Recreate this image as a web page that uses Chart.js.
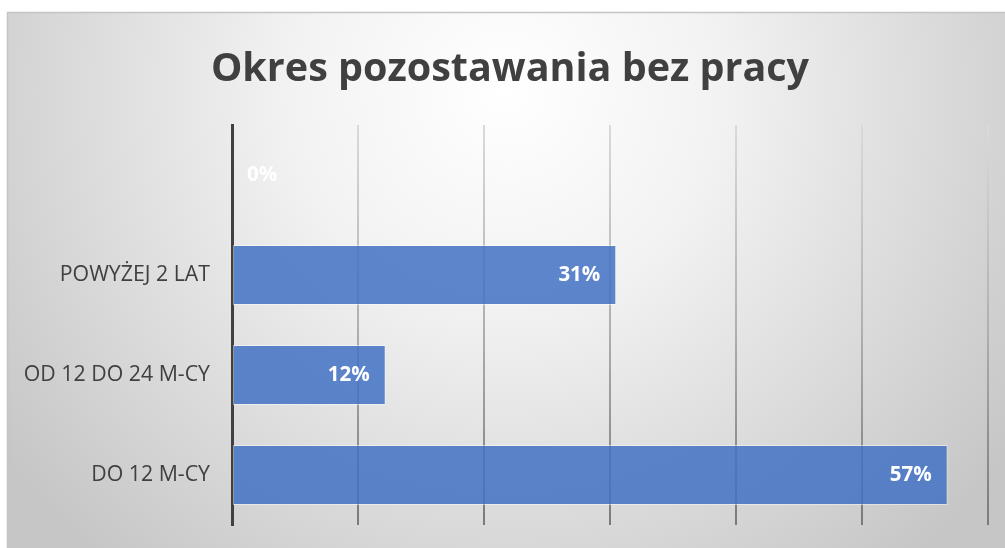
<!DOCTYPE html>
<html>
<head>
<meta charset="utf-8">
<script src="https://cdn.jsdelivr.net/npm/chart.js@4.4.1/dist/chart.umd.min.js"></script>
<style>
html,body{margin:0;padding:0;background:#fff;}
#wrap{width:1005px;height:548px;position:relative;}
</style>
</head>
<body>
<div id="wrap"><canvas id="c" width="1005" height="548"></canvas></div>
<script>
const chartTitle = "Okres pozostawania bez pracy";
const categories = ["", "POWYŻEJ 2 LAT", "OD 12 DO 24 M-CY", "DO 12 M-CY"];
const values = [0, 30.5, 12.2, 56.8];
const valueLabels = ["0%", "31%", "12%", "57%"];
const axisMax = 60;

const FONT = "'Open Sans', 'DejaVu Sans', sans-serif";

const bgPlugin = {
  id: 'bg',
  beforeDraw(chart) {
    const ctx = chart.ctx;
    ctx.save();
    ctx.fillStyle = '#ffffff';
    ctx.fillRect(0, 0, chart.width, chart.height);
    const x0 = 7, y0 = 12;
    const g = ctx.createRadialGradient(505, 90, 0, 505, 90, 620);
    g.addColorStop(0, '#ffffff');
    g.addColorStop(0.35, '#f2f2f2');
    g.addColorStop(1, '#c6c6c6');
    ctx.fillStyle = g;
    ctx.fillRect(x0, y0, chart.width - x0, chart.height - y0);
    ctx.strokeStyle = '#c4c4c4';
    ctx.lineWidth = 1.5;
    ctx.beginPath();
    ctx.moveTo(x0 + 0.5, chart.height);
    ctx.lineTo(x0 + 0.5, y0 + 0.5);
    ctx.lineTo(chart.width, y0 + 0.5);
    ctx.stroke();
    // title
    ctx.fillStyle = '#404040';
    ctx.font = "bold 39.5px " + FONT;
    ctx.textAlign = 'center';
    ctx.textBaseline = 'alphabetic';
    ctx.fillText(chartTitle, 510, 81);
    ctx.restore();
  }
};

const labelPlugin = {
  id: 'vlabels',
  afterDatasetsDraw(chart) {
    const ctx = chart.ctx;
    const meta = chart.getDatasetMeta(0);
    const xs = chart.scales.x;
    ctx.save();
    ctx.fillStyle = '#ffffff';
    ctx.font = "bold 20.5px " + FONT;
    ctx.textBaseline = 'middle';
    meta.data.forEach((bar, i) => {
      const txt = valueLabels[i];
      const w = ctx.measureText(txt).width;
      const base = xs.getPixelForValue(0);
      let xr = bar.x - 16;
      if (xr - w < base + 15) {
        ctx.textAlign = 'left';
        ctx.fillText(txt, base + 15, bar.y);
      } else {
        ctx.textAlign = 'right';
        ctx.fillText(txt, xr, bar.y);
      }
    });
    ctx.restore();
  }
};

function gridColor(c) {
  const chart = c.chart;
  const a = chart.chartArea;
  if (!a) return '#a0a0a0';
  const g = chart.ctx.createLinearGradient(0, a.top, 0, a.bottom);
  g.addColorStop(0, '#dadada');
  g.addColorStop(0.5, '#b0b0b0');
  g.addColorStop(1, '#7a7a7a');
  return g;
}

new Chart(document.getElementById('c'), {
  type: 'bar',
  data: {
    labels: categories,
    datasets: [{
      data: values,
      backgroundColor: 'rgba(68,114,196,0.86)',
      borderColor: 'rgba(255,255,255,0.45)',
      borderWidth: 1,
      borderSkipped: false,
      barPercentage: 0.6,
      categoryPercentage: 1.0
    }]
  },
  options: {
    indexAxis: 'y',
    responsive: false,
    animation: false,
    devicePixelRatio: 1,
    layout: { padding: { top: 125, right: 17, bottom: 23, left: 0 } },
    plugins: { legend: { display: false }, title: { display: false }, tooltip: { enabled: false } },
    scales: {
      x: {
        min: 0, max: axisMax,
        afterFit(scale) { scale.height = 0; scale.paddingLeft = 0; scale.paddingRight = 0; },
        ticks: { display: false, stepSize: 10 },
        grid: { color: gridColor, lineWidth: 2, drawTicks: false },
        border: { display: false }
      },
      y: {
        afterFit(scale) { scale.width = 232; scale.paddingTop = 0; scale.paddingBottom = 0; },
        ticks: { color: '#404040', font: { family: FONT, size: 21.3 }, padding: 22 },
        grid: { display: false, drawTicks: false },
        border: { display: true, color: '#404040', width: 3 }
      }
    }
  },
  plugins: [bgPlugin, labelPlugin]
});
</script>
</body>
</html>
